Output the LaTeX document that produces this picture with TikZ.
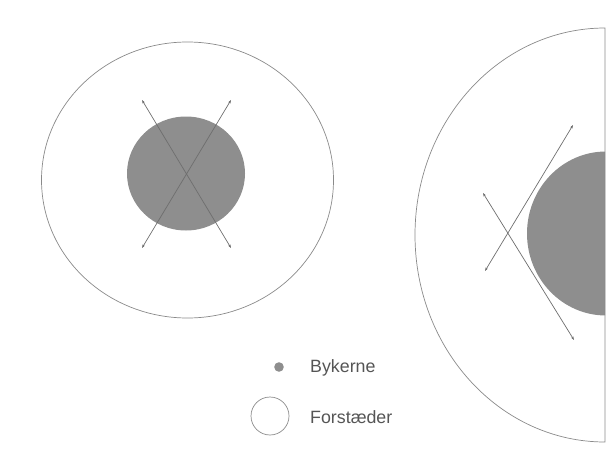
\documentclass[tikz,border=0pt]{standalone}
\usepackage{fontspec}
\setmainfont{Liberation Sans}
\usetikzlibrary{arrows.meta}
\definecolor{core}{HTML}{8E8E8E}
\definecolor{ringline}{HTML}{8A8A8A}
\definecolor{arr}{HTML}{6E6E6E}
\definecolor{txt}{HTML}{555555}
\tikzset{
  ring/.style={draw=ringline, line width=0.7pt},
  coredisc/.style={fill=core, draw=none},
  flow/.style={draw=arr, line width=0.7pt, {Stealth[length=3.5pt,width=2.5pt]}-{Stealth[length=3.5pt,width=2.5pt]}},
  legtext/.style={anchor=west, text=txt, font=\fontsize{17.8}{20}\selectfont, inner sep=0pt}
}
\begin{document}
\begin{tikzpicture}[x=1pt,y=-1pt]
\useasboundingbox (0,0) rectangle (610,471);
% left city
\draw[ring] (187.5,180) ellipse [x radius=146, y radius=138];
\fill[coredisc] (186,173.5) ellipse [x radius=59, y radius=57];
\coordinate (a1) at (142,100);
\coordinate (a2) at (231,248);
\coordinate (b1) at (231,100);
\coordinate (b2) at (142,248);
\draw[flow] (a1) -- (a2);
\draw[flow] (b1) -- (b2);
% right city (half)
\begin{scope}
\clip (0,0) rectangle (605,471);
\fill[coredisc] (606,233.5) ellipse [x radius=79, y radius=82];
\end{scope}
\draw[ring] (605,28) arc[start angle=270, end angle=90, x radius=190, y radius=207] -- cycle;
\coordinate (c1) at (573,125);
\coordinate (c2) at (485,271);
\coordinate (d1) at (483,193);
\coordinate (d2) at (574,340);
\draw[flow] (c1) -- (c2);
\draw[flow] (d1) -- (d2);
% legend
\fill[core] (279,367) circle (4.8);
\node[legtext] (l1) at (310,368) {Bykerne};
\draw[ring] (270,416) circle (19);
\node[legtext] (l2) at (310,417) {Forstæder};
\end{tikzpicture}
\end{document}
